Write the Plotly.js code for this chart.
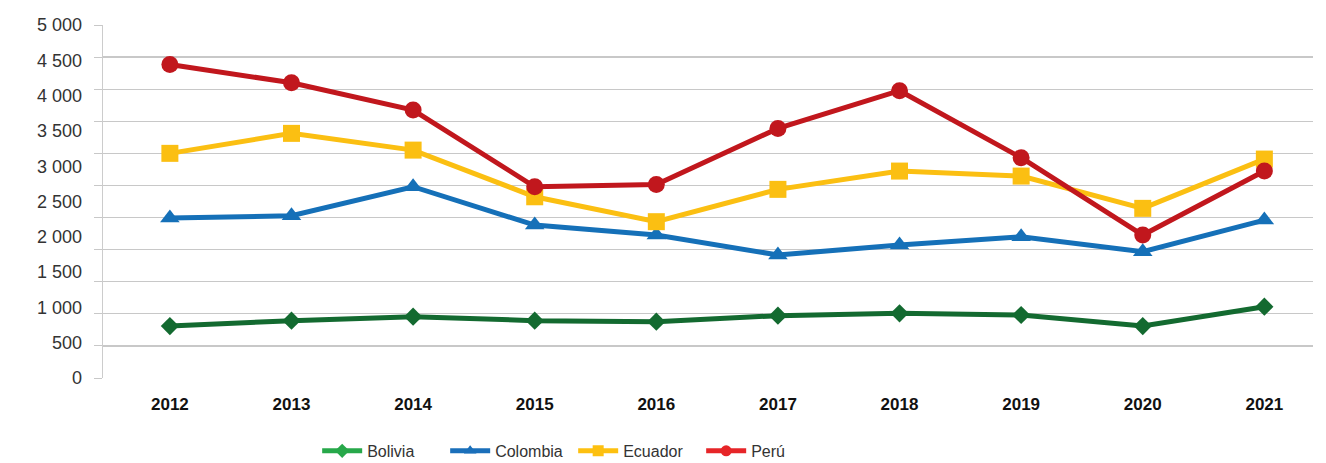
<!DOCTYPE html>
<html>
<head>
<meta charset="utf-8">
<script src="https://cdn.plot.ly/plotly-3.0.1.min.js"></script>
<style>html,body{margin:0;padding:0;background:#fff;}#chart{width:1326px;height:463px;}</style>
</head>
<body>
<div id="chart"></div>
<script>
const years = ['2012','2013','2014','2015','2016','2017','2018','2019','2020','2021'];
const bolivia  = [736, 812, 868, 812, 798, 883, 916, 892, 736, 1010];
const colombia = [2266, 2298, 2709, 2166, 2025, 1742, 1883, 2001, 1789, 2237];
const ecuador  = [3182, 3465, 3228, 2567, 2214, 2672, 2931, 2860, 2403, 3101];
const peru     = [4440, 4182, 3795, 2709, 2742, 3535, 4069, 3120, 2025, 2931];
const seriesNames = ['Bolivia', 'Colombia', 'Ecuador', 'Perú'];
const yTicks = [0, 500, 1000, 1500, 2000, 2500, 3000, 3500, 4000, 4500, 5000];

const lineColors   = ['#136a30', '#1570b8', '#fbbf12', '#c1171d'];
const legendColors = ['#27a84a', '#1a6fba', '#fdc010', '#e62528'];
const symbols = ['diamond', 'triangle-up', 'square', 'circle'];
const sizes = [14, 17, 17, 17];
const values = [bolivia, colombia, ecuador, peru];

const traces = [];
// empty trace so the grid axis subplot is drawn
traces.push({x: [years[0]], y: [null], yaxis: 'y', type: 'scatter', mode: 'lines', showlegend: false, hoverinfo: 'skip'});
values.forEach((v, i) => {
  traces.push({
    x: years, y: v, yaxis: 'y2', type: 'scatter', mode: 'lines+markers',
    name: seriesNames[i], showlegend: false, cliponaxis: false,
    line: {color: lineColors[i], width: 5},
    marker: {symbol: symbols[i], size: sizes[i], color: lineColors[i]}
  });
});
values.forEach((v, i) => {
  traces.push({
    x: [null], y: [null], yaxis: 'y2', type: 'scatter', mode: 'lines+markers',
    name: seriesNames[i], showlegend: true,
    line: {color: legendColors[i], width: 5},
    marker: {symbol: symbols[i], size: 11, color: legendColors[i]}
  });
});

const layout = {
  width: 1326, height: 463,
  margin: {l: 103, r: 13, t: 25, b: 85},
  paper_bgcolor: '#fff', plot_bgcolor: '#fff',
  separators: ', ',
  font: {family: 'Liberation Sans, Arial, sans-serif', color: '#333'},
  xaxis: {
    type: 'category', range: [-0.55, 9.4], showgrid: false, zeroline: false, showline: false,
    ticks: '', tickfont: {size: 17, color: '#111', family: 'Liberation Sans, Arial, sans-serif', weight: 'bold'},
    ticklabelstandoff: 14
  },
  yaxis: {
    range: [0, 5500], dtick: 500, tick0: 0, showgrid: true, gridcolor: '#c8c8c8', gridwidth: 1.2,
    zeroline: false, showticklabels: false, ticks: 'outside', ticklen: 8, tickcolor: '#c8c8c8',
    showline: true, linecolor: '#cccccc', linewidth: 1
  },
  yaxis2: {
    overlaying: 'y', side: 'left', range: [0, 5000], tickmode: 'array', tickvals: yTicks,
    separatethousands: true, showgrid: false, zeroline: false, ticks: '',
    tickfont: {size: 18, color: '#333', family: 'Liberation Sans, Arial, sans-serif'},
    ticklabelstandoff: 20, showline: false
  },
  legend: {
    orientation: 'h', x: 0.177, xanchor: 'left', xref: 'paper',
    yref: 'container', y: 0.026, yanchor: 'middle',
    font: {size: 16, color: '#333', family: 'Liberation Sans, Arial, sans-serif'},
    itemwidth: 40, entrywidth: 73, traceorder: 'normal'
  },
  showlegend: true
};

Plotly.newPlot('chart', traces, layout, {staticPlot: true, displayModeBar: false});
</script>
</body>
</html>
